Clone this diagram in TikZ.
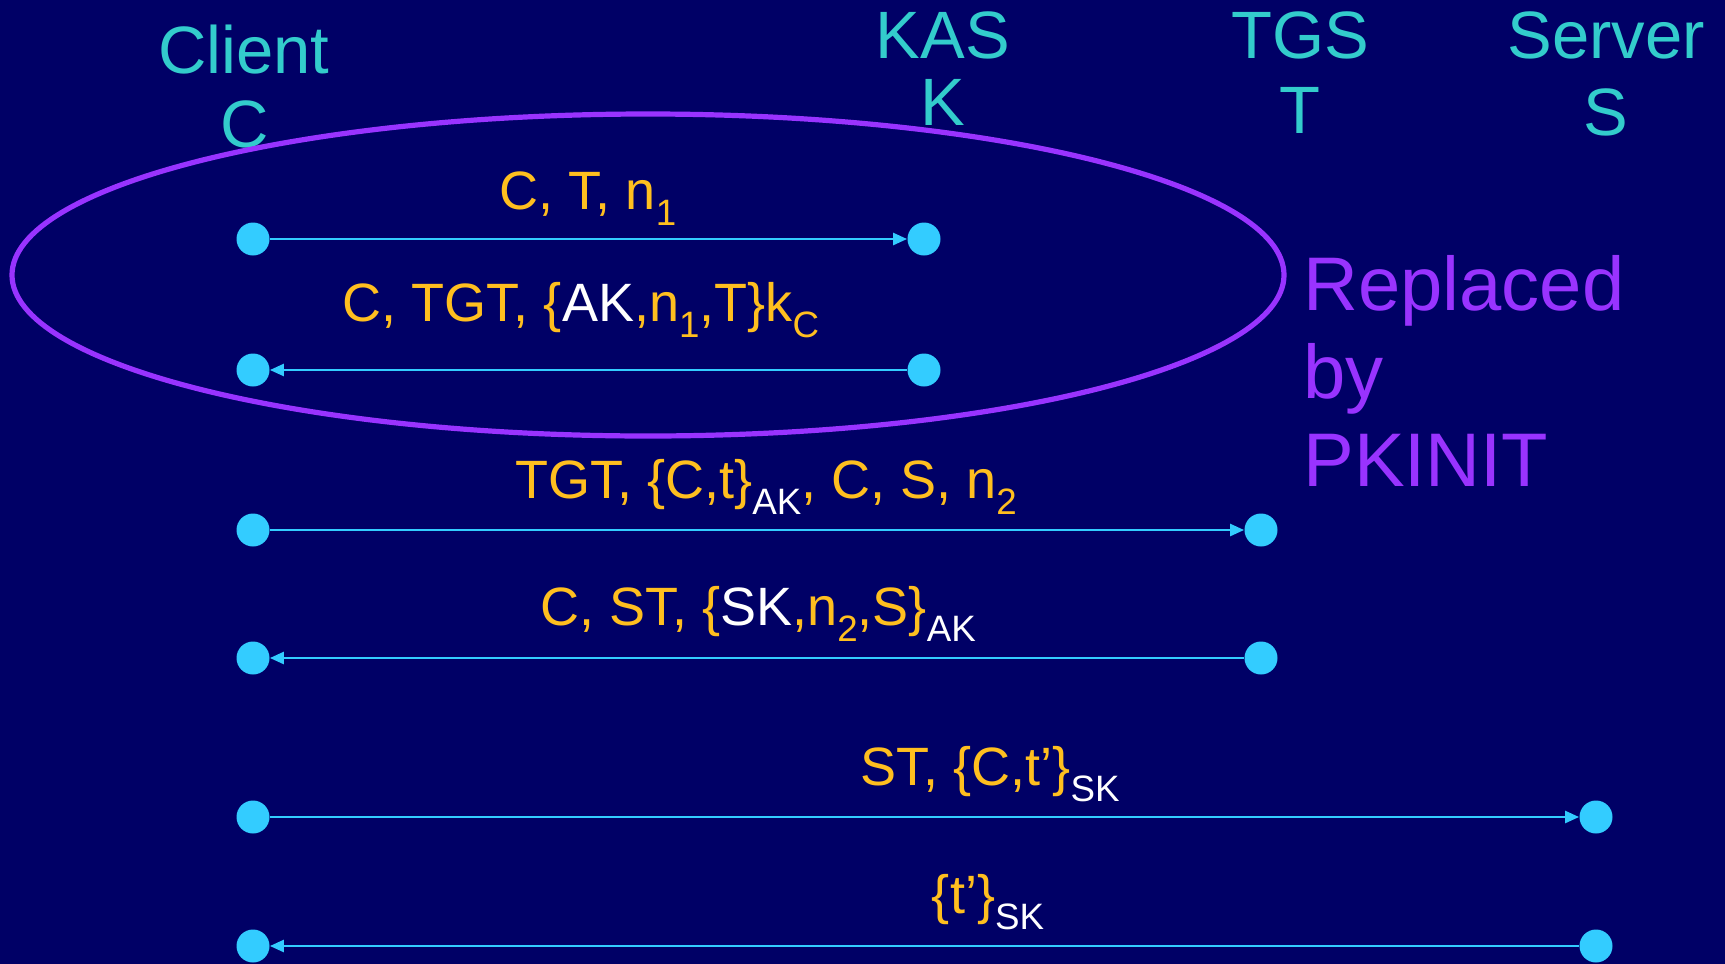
\documentclass[tikz,border=0pt]{standalone}
\usepackage{fontspec}
\setmainfont{Liberation Sans}
\usetikzlibrary{arrows.meta,shapes.geometric}
\definecolor{bg}{HTML}{000066}
\definecolor{head}{HTML}{33CCCC}
\definecolor{lab}{HTML}{FFBF1F}
\definecolor{wire}{HTML}{33CCFF}
\definecolor{purp}{HTML}{9933FF}
\newcommand\lo[1]{\raisebox{-0.3em}{\scalebox{0.68}{#1}}}
\newcommand\wh[1]{\textcolor{white}{#1}}
\tikzset{
  dot/.style={circle,fill=wire,inner sep=0pt,minimum size=16.5pt},
  msg/.style={draw=wire,line width=1.25pt,-{Triangle[length=7pt,width=6pt]}},
  hdr/.style={text=head,font=\fontsize{33.5}{40}\selectfont,anchor=base,inner sep=0pt},
  lbl/.style={text=lab,font=\fontsize{27}{32}\selectfont,anchor=base,inner sep=0pt},
  rep/.style={text=purp,font=\fontsize{38}{44}\selectfont,anchor=base west,inner sep=0pt},
}
\begin{document}
\begin{tikzpicture}[x=0.5pt,y=-0.5pt]
\fill[bg] (0,0) rectangle (1725,964);
\useasboundingbox (0,0) rectangle (1725,964);
% headers
\node[hdr] (hc1) at (244,73) {Client};
\node[hdr] (hc2) at (245,147) {C};
\node[hdr] (hk1) at (943,58) {KAS};
\node[hdr] (hk2) at (943,125) {K};
\node[hdr] (ht1) at (1300,58) {TGS};
\node[hdr] (ht2) at (1300,133) {T};
\node[hdr] (hs1) at (1606,58) {Server};
\node[hdr] (hs2) at (1606,135) {S};
% ellipse
\node[draw=purp,line width=2.6pt,ellipse,inner sep=0pt,minimum width=636pt,minimum height=161pt] (pk) at (648,275) {};
% replaced by
\node[rep] (r1) at (1303,310) {Replaced};
\node[rep] (r2) at (1303,398) {by};
\node[rep] (r3) at (1303,486) {PKINIT};
% dots
\node[dot] (c1) at (253,239) {};
\node[dot] (k1) at (924,239) {};
\node[dot] (c2) at (253,370) {};
\node[dot] (k2) at (924,370) {};
\node[dot] (c3) at (253,530) {};
\node[dot] (t1) at (1261,530) {};
\node[dot] (c4) at (253,658) {};
\node[dot] (t2) at (1261,658) {};
\node[dot] (c5) at (253,817) {};
\node[dot] (s1) at (1596,817) {};
\node[dot] (c6) at (253,946) {};
\node[dot] (s2) at (1596,946) {};
% arrows
\draw[msg] (c1) -- (k1);
\draw[msg] (k2) -- (c2);
\draw[msg] (c3) -- (t1);
\draw[msg] (t2) -- (c4);
\draw[msg] (c5) -- (s1);
\draw[msg] (s2) -- (c6);
% labels
\node[lbl] (l1) at (588,209) {C, T, n\lo{1}};
\node[lbl] (l2) at (581,321) {C, TGT, \{\wh{AK},n\lo{1},T\}k\lo{C}};
\node[lbl] (l3) at (766,498) {TGT, \{C,t\}\lo{\wh{AK}}, C, S, n\lo{2}};
\node[lbl] (l4) at (758,625) {C, ST, \{\wh{SK},n\lo{2},S\}\lo{\wh{AK}}};
\node[lbl] (l5) at (990,785) {ST, \{C,t'\}\lo{\wh{SK}}};
\node[lbl] (l6) at (988,913) {\{t'\}\lo{\wh{SK}}};
\end{tikzpicture}
\end{document}
